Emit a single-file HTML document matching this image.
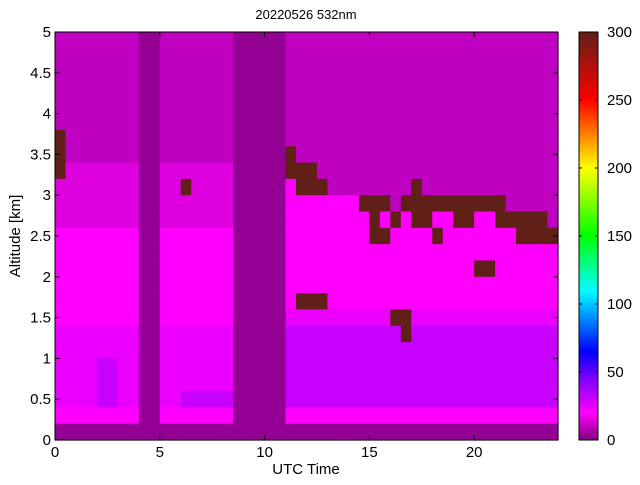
<!DOCTYPE html>
<html><head><meta charset="utf-8"><style>
body{margin:0;background:#fff;width:640px;height:480px;overflow:hidden;font-family:"Liberation Sans",sans-serif}
</style></head><body>
<svg id="chart" width="640" height="480" xmlns="http://www.w3.org/2000/svg">
<text x="306" y="19" font-size="13" text-anchor="middle">20220526 532nm</text>
<g id="cells"></g>
<rect x="55" y="32" width="503" height="408" fill="none" stroke="#000" stroke-width="1"/>
<g id="axes"></g>
<defs><linearGradient id="cbg" x1="0" y1="1" x2="0" y2="0"></linearGradient></defs>
<rect x="579" y="32" width="19" height="408" fill="url(#cbg)" stroke="#000"/>
<g id="cbar"></g>
<text x="306" y="474" font-size="15" text-anchor="middle">UTC Time</text>
<text x="20" y="236" font-size="15" text-anchor="middle" transform="rotate(-90 20 236)">Altitude [km]</text>
</svg>
<script>
// time columns (0.5 h each), altitude rows of 0.2 km from 5 km (top) down to 0
const timeStep = 0.5;
const altStep = 0.2;
const levelValues = {'0':3,'1':10,'2':15,'3':20,'4':24,'5':31,'c':300};
const columns = [
"111111ccc2223333334444430",
"1111111122223333334444430",
"1111111122223333334444430",
"1111111122223333334444430",
"1111111122223333334455530",
"1111111122223333334455530",
"1111111122223333334444430",
"1111111122223333334444430",
"0000000000000000000000000",
"0000000000000000000000000",
"1111111122223333334444430",
"1111111122223333334444430",
"111111112c223333334444530",
"1111111122223333334444530",
"1111111122223333334444530",
"1111111122223333334444530",
"1111111122223333334444530",
"0000000000000000000000000",
"0000000000000000000000000",
"0000000000000000000000000",
"0000000000000000000000000",
"0000000000000000000000000",
"1111111cc3333333345555530",
"11111111cc333333c45555530",
"11111111cc333333c45555530",
"111111111c333333c45555530",
"1111111111333333345555530",
"1111111111333333345555530",
"1111111111333333345555530",
"1111111111c33333345555530",
"1111111111ccc333345555530",
"1111111111c3c333345555530",
"11111111111c33333c5555530",
"1111111111c333333cc555530",
"111111111ccc3333345555530",
"1111111111cc3333345555530",
"1111111111c3c333345555530",
"1111111111c33333345555530",
"1111111111cc3333345555530",
"1111111111cc3333345555530",
"1111111111c333c3345555530",
"1111111111c333c3345555530",
"1111111111cc3333345555530",
"11111111111c3333345555530",
"11111111111cc333345555530",
"11111111111cc333345555530",
"11111111111cc333345555530",
"111111111111c333345555530"
];
const xTicks = [0,5,10,15,20];
const yTicks = [0,0.5,1,1.5,2,2.5,3,3.5,4,4.5,5];
const yTickLabels = ["0","0.5","1","1.5","2","2.5","3","3.5","4","4.5","5"];
const cbTicks = [0,50,100,150,200,250,300];
const cmapStops = [[0,[128,0,128]],[20,[255,0,255]],[45,[128,0,255]],[65,[0,0,255]],[110,[0,255,255]],[150,[0,255,0]],[200,[255,255,0]],[250,[255,0,0]],[300,[96,32,24]]];

const NS="http://www.w3.org/2000/svg";
const X0=55,X1=558,Y0=440,Y1=32;
const xs=t=>X0+(t/24)*(X1-X0);
const ys=a=>Y0-(a/5)*(Y0-Y1);
const cs=v=>Y0-(v/300)*(Y0-Y1);
function cmap(v){
  for(let i=1;i<cmapStops.length;i++){
    if(v<=cmapStops[i][0]){
      const [v0,c0]=cmapStops[i-1],[v1,c1]=cmapStops[i];
      const f=(v-v0)/(v1-v0);
      return 'rgb('+c0.map((c,k)=>Math.round(c+(c1[k]-c)*f)).join(',')+')';
    }
  }
  return 'rgb(96,32,24)';
}
function mk(tag,attrs,parent){const e=document.createElementNS(NS,tag);for(const k in attrs)e.setAttribute(k,attrs[k]);parent.appendChild(e);return e;}
const cells=document.getElementById('cells');
columns.forEach((col,ci)=>{
  const nRows=Math.round(5/altStep);
  for(let r=0;r<nRows;r++){
    const ch=col[r]||'0';
    const v=levelValues[ch]!==undefined?levelValues[ch]:3;
    const aTop=5-r*altStep, aBot=aTop-altStep;
    const x=xs(ci*timeStep), x2=xs((ci+1)*timeStep);
    const e=mk('rect',{x:x.toFixed(2),y:ys(aTop).toFixed(2),width:(x2-x+0.6).toFixed(2),height:(ys(aBot)-ys(aTop)+0.6).toFixed(2),fill:cmap(v)},cells);
    
    
  }
});
const axes=document.getElementById('axes');
xTicks.forEach(t=>{
  const x=xs(t);
  mk('line',{x1:x,y1:Y0,x2:x,y2:Y0-5,stroke:'#000'},axes);
  mk('line',{x1:x,y1:Y1,x2:x,y2:Y1+5,stroke:'#000'},axes);
  const tx=mk('text',{x:x,y:Y0+17,'font-size':15,'text-anchor':'middle'},axes);
  tx.textContent=String(t);
  
  
});
yTicks.forEach((a,i)=>{
  const y=ys(a);
  mk('line',{x1:X0,y1:y,x2:X0+5,y2:y,stroke:'#000'},axes);
  mk('line',{x1:X1,y1:y,x2:X1-5,y2:y,stroke:'#000'},axes);
  const tx=mk('text',{x:X0-4,y:y+5,'font-size':15,'text-anchor':'end'},axes);
  tx.textContent=yTickLabels[i];
  
  
});
const g=document.getElementById('cbg');
cmapStops.forEach(([v,c])=>{mk('stop',{offset:(v/300*100)+'%','stop-color':'rgb('+c.join(',')+')'},g);});
const cb=document.getElementById('cbar');
cbTicks.forEach(v=>{
  const y=cs(v);
  mk('line',{x1:579,y1:y,x2:582,y2:y,stroke:'#000'},cb);
  mk('line',{x1:598,y1:y,x2:595,y2:y,stroke:'#000'},cb);
  const tx=mk('text',{x:607,y:y+5,'font-size':15},cb);
  tx.textContent=String(v);
  
  
});
</script>
</body></html>
